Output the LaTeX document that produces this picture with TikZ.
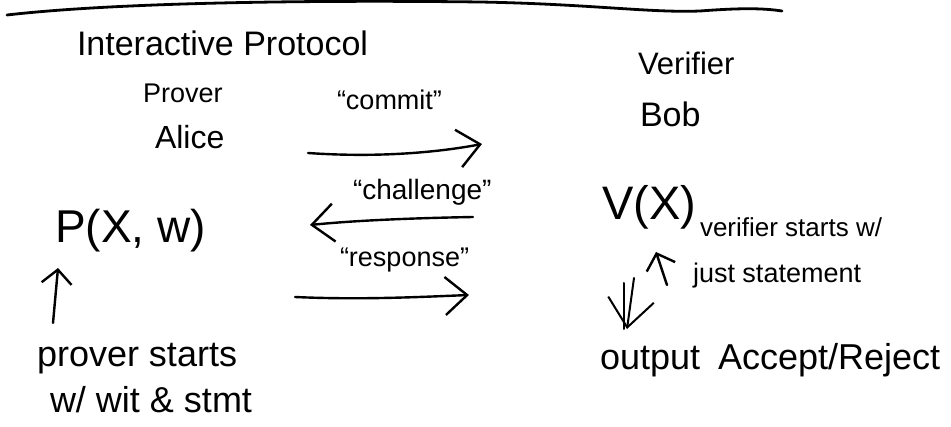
\documentclass[tikz,border=0pt]{standalone}
\usepackage{fontspec}
\setmainfont{Liberation Sans}
\usetikzlibrary{arrows.meta}

\tikzset{
  hand/.style={anchor=base west, inner sep=0pt, outer sep=0pt, font=\fontsize{#1}{#1}\selectfont},
  pen/.style={line width=2.4pt, line cap=round, line join=round},
  msg/.style={pen, -{Straight Barb[length=22pt,width=38pt]}},
  small msg/.style={pen, -{Straight Barb[length=14pt,width=30pt]}},
}

\begin{document}
\begin{tikzpicture}[x=1pt,y=-1pt]
    \useasboundingbox (0,0) rectangle (951,427);

    % Linea in alto
    \draw[pen, line width=2.8pt]
        (7,15)
        .. controls (120,2) and (320,0)
        .. (480,2)
        .. controls (590,4) and (650,13)
        .. (700,11)
        .. controls (740,8) and (762,8)
        .. (782,11);

    % Titolo
    \node[hand=34] (title) at (77,56) {Interactive Protocol};

    % Prover / Verifier
    \node[hand=27] (prover) at (143,103) {Prover};
    \node[hand=32] (alice) at (155,149) {Alice};
    \node[hand=31] (verifier) at (638,75) {Verifier};
    \node[hand=34] (bob) at (640,127) {Bob};

    % Messaggi
    \node[hand=27] (commit) at (337,110) {``commit''};
    \node[hand=28] (challenge) at (353,200) {``challenge''};
    \node[hand=27] (response) at (340,267) {``response''};

    \coordinate (c1) at (308,153);
    \coordinate (c2) at (482,144);
    \coordinate (h1) at (473,217);
    \coordinate (h2) at (310,225);
    \coordinate (r1) at (295,297);
    \coordinate (r2) at (469,295);

    \draw[msg] (c1) .. controls (380,158) and (440,152) .. (c2);
    \draw[msg] (h1) .. controls (420,218) and (360,220) .. (h2);
    \draw[msg] (r1) .. controls (360,300) and (420,297) .. (r2);

    % Prover
    \node[hand=46] (pxw) at (55,243) {P(X, w)};
    \coordinate (p1) at (53,323);
    \coordinate (p2) at (58,268);
    \draw[small msg] (p1) -- (p2);
    \node[hand=36] (pstart) at (37,367) {prover starts};
    \node[hand=36] (pwit) at (50,413) {w/ wit \& stmt};

    % Verifier
    \node[hand=47] (vx) at (602,220) {V(X)};
    \node[hand=26] (vstart) at (700,237) {verifier starts w/};
    \node[hand=27] (vjust) at (693,283) {just statement};

    \coordinate (u1) at (667,285);
    \coordinate (u2) at (656,252);
    \draw[small msg] (u1) -- (u2);

    % Freccia doppia verso output
    \coordinate (d1) at (624,283);
    \coordinate (d2) at (634,278);
    \coordinate (d3) at (627,329);
    \draw[pen, line width=2pt] (d1) -- ([xshift=-3pt]d3);
    \draw[pen, line width=2pt, -{Straight Barb[length=28pt,width=46pt]}] (d2) -- (d3);

    \node[hand=36] (output) at (600,370) {output\enspace Accept/Reject};
\end{tikzpicture}
\end{document}
